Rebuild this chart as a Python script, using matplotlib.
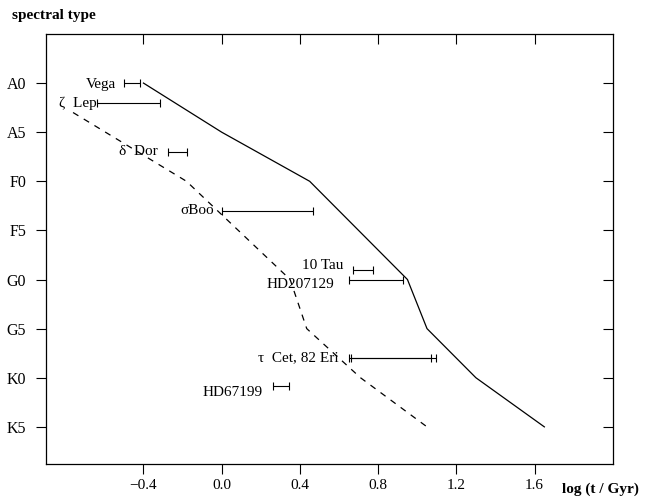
import matplotlib
matplotlib.use("Agg")
import matplotlib.pyplot as plt

plt.rcParams["font.family"] = ["Liberation Serif", "DejaVu Serif"]

# spectral types on y (A0 = 0 ... K5 = 7)
spec_labels = ["A0", "A5", "F0", "F5", "G0", "G5", "K0", "K5"]
spec_pos = [0, 1, 2, 3, 4, 5, 6, 7]

# solid curve
solid_x = [-0.40, 0.00, 0.45, 0.95, 1.05, 1.30, 1.65]
solid_y = [0, 1, 2, 4, 5, 6, 7]

# dashed curve
dash_x = [-0.76, -0.18, 0.35, 0.435, 0.71, 1.05]
dash_y = [0.6, 2, 4, 5, 6, 7]

# stars: name, spectral position, age range (log t)
star_names = ["Vega", "ζ  Lep", "δ  Dor", "σBoo", "10 Tau", "HD207129",
              "τ  Cet, 82 Eri", "", "HD67199"]
star_y = [0.0, 0.41, 1.4, 2.6, 3.8, 4.0, 5.6, 5.6, 6.17]
star_lo = [-0.50, -0.64, -0.277, 0.0, 0.671, 0.652, 0.65, 0.661, 0.261]
star_hi = [-0.42, -0.316, -0.179, 0.469, 0.772, 0.925, 1.072, 1.098, 0.346]
# label right edge in log t and vertical position
label_x = [-0.538, -0.638, -0.327, -0.038, 0.62, 0.575, 0.60, 0.0, 0.21]
label_y = [0.02, 0.41, 1.4, 2.6, 3.72, 4.1, 5.6, 5.6, 6.3]

fig = plt.figure(figsize=(6.46, 4.97), dpi=100)
ax = fig.add_axes([0.0707, 0.067, 0.8779, 0.8647])

ax.plot(solid_x, solid_y, color="black", lw=0.9)
ax.plot(dash_x, dash_y, color="black", lw=0.9, linestyle=(0, (5, 5)))

for name, y, lo, hi, lx, ly in zip(star_names, star_y, star_lo, star_hi, label_x, label_y):
    ax.errorbar([(lo + hi) / 2], [y], xerr=[[(hi - lo) / 2], [(hi - lo) / 2]],
                fmt="none", ecolor="black", elinewidth=0.8, capsize=3, capthick=0.8)
    if name:
        ax.text(lx, ly, name, ha="right", va="center", fontsize=11)

ax.set_xlim(-0.9, 2.0)
ax.set_ylim(7.75, -1)
ax.set_xticks([-0.4, 0.0, 0.4, 0.8, 1.2, 1.6])
ax.set_xticklabels(["−0.4", "0.0", "0.4", "0.8", "1.2", "1.6"])
ax.set_yticks(spec_pos)
ax.set_yticklabels(spec_labels)
ax.tick_params(axis="both", length=7, width=0.8)
ax.tick_params(axis="y", labelsize=11.5, pad=7, right=True)
ax.tick_params(axis="x", labelsize=11, pad=4, top=True, direction="out")
# top and right ticks point inward
for t in ax.xaxis.get_major_ticks():
    t.tick2line.set_marker(3)
for t in ax.yaxis.get_major_ticks():
    t.tick2line.set_marker(0)
for s in ax.spines.values():
    s.set_linewidth(0.9)

fig.text(12 / 646, 1 - 16 / 497, "spectral type", fontsize=11, fontweight="bold",
         ha="left", va="center")
fig.text(562 / 646, 1 - 489 / 497, "log (t / Gyr)", fontsize=11, fontweight="bold",
         ha="left", va="center")

fig.savefig("out.png", dpi=100)
